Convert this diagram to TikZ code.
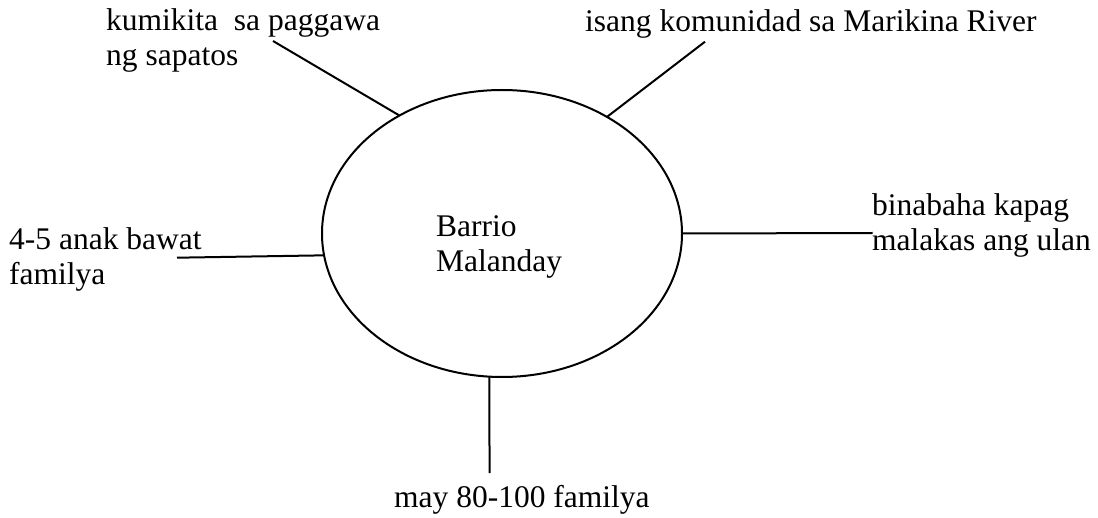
\documentclass[tikz,border=0pt]{standalone}
\usepackage{fontspec}
\setmainfont{Liberation Serif}
\usetikzlibrary{shapes.geometric}
\begin{document}
\begin{tikzpicture}[x=1pt,y=-1pt,
  lbl/.style={inner sep=0pt, anchor=base west, align=left, font=\fontsize{31.5}{34.5}\selectfont},
  conn/.style={line width=2pt},
  bubble/.style={draw, ellipse, line width=2pt, inner sep=0pt, outer sep=0pt, minimum width=360pt, minimum height=287pt}]
\useasboundingbox (0,0) rectangle (1098,518);
\node[bubble] (e) at (502,233.5) {};
% anchor base of a multi-line node = baseline of its last line
\node[lbl] (c) at (436,271.5) {Barrio\\Malanday};
\node[lbl] (n1) at (106,65.2) {kumikita\ \ sa paggawa\\ng sapatos};
\node[lbl] (n2) at (585,32) {isang komunidad sa Marikina River};
\node[lbl] (n3) at (872,250.2) {binabaha kapag\\malakas ang ulan};
\node[lbl] (n4) at (9,284.5) {4-5 anak bawat\\familya};
\node[lbl] (n5) at (394,507.3) {may 80-100 familya};
\coordinate (tlend) at (273,41);
\coordinate (trend) at (705,41.7);
\coordinate (rend) at (872.7,233);
\coordinate (lend) at (177,257.7);
\coordinate (botend) at (489.5,473);
\draw[conn] (e.131.8) -- (tlend);
\draw[conn] (e.48.4) -- (trend);
\draw[conn] (e.east) -- (rend);
\draw[conn] (e.187.8) -- (lend);
\draw[conn] (e.265) -- (botend);
\end{tikzpicture}
\end{document}
